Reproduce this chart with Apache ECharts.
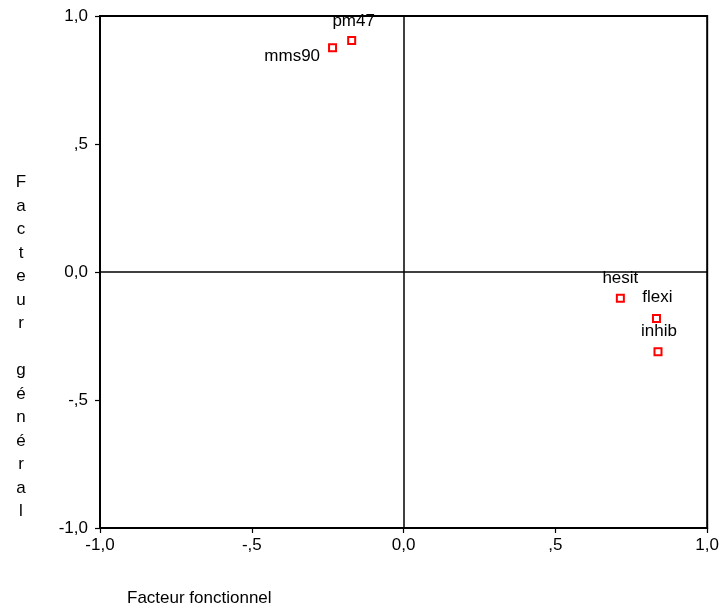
<!DOCTYPE html>
<html><head><meta charset="utf-8">
<script src="https://cdn.jsdelivr.net/npm/echarts@6/dist/echarts.min.js"></script>
<style>html,body{margin:0;padding:0;background:#fff}#c{width:722px;height:614px}</style>
</head><body><div id="c"></div>
<script>
const names = ['pm47', 'mms90', 'hesit', 'flexi', 'inhib'];
const xVals = [-0.171, -0.234, 0.714, 0.833, 0.838];
const yVals = [0.904, 0.876, -0.103, -0.182, -0.312];
const tickValues = [-1, -0.5, 0, 0.5, 1];
const tickLabels = ['-1,0', '-,5', '0,0', ',5', '1,0'];
const xTitle = 'Facteur fonctionnel';
const yTitle = 'Facteur général';

// label placement styles (not data)
const labelPos = {
  pm47: {position: 'top', distance: 5, offset: [2, -1]},
  mms90: {position: 'left', distance: 8, offset: [0, 9]},
  hesit: {position: 'top', distance: 5, offset: [0, -2]},
  flexi: {position: 'top', distance: 5, offset: [1, -3]},
  inhib: {position: 'top', distance: 5, offset: [1, -3]}
};

const FONT = "'Liberation Sans', Arial, sans-serif";
const fmt = v => {
  const i = tickValues.findIndex(t => Math.abs(t - v) < 1e-9);
  return i >= 0 ? tickLabels[i] : '';
};

const points = names.map((n, i) => ({
  name: n,
  value: [xVals[i], yVals[i]],
  label: Object.assign({show: true, formatter: n, color: '#000', fontSize: 17, fontFamily: FONT}, labelPos[n])
}));

const axisCommon = {
  type: 'value', min: -1, max: 1, interval: 0.5,
  axisLine: {show: true, onZero: false, lineStyle: {color: '#000', width: 2}},
  axisTick: {show: true, length: 5, lineStyle: {color: '#000', width: 1.2}},
  splitLine: {show: false},
  axisLabel: {formatter: fmt, color: '#000', fontSize: 17, fontFamily: FONT}
};

const chart = echarts.init(document.getElementById('c'));
chart.setOption({
  animation: false,
  backgroundColor: '#fff',
  grid: {left: 100, right: 14, top: 16, bottom: 86, show: true, borderColor: '#000', borderWidth: 2, backgroundColor: 'transparent'},
  xAxis: Object.assign({}, axisCommon, {axisLabel: Object.assign({}, axisCommon.axisLabel, {margin: 9})}),
  yAxis: Object.assign({}, axisCommon, {axisLabel: Object.assign({}, axisCommon.axisLabel, {margin: 12})}),
  graphic: [
    {type: 'text', left: 127, top: 590, style: {text: xTitle, fill: '#000', font: '17px ' + FONT}},
    {type: 'text', x: 21, y: 347, style: {text: yTitle.split('').join('\n'), fill: '#000', font: '17px ' + FONT, align: 'center', verticalAlign: 'middle', lineHeight: 23.5}}
  ],
  series: [{
    type: 'scatter',
    data: points,
    symbol: 'rect',
    symbolSize: 7,
    itemStyle: {color: '#fff', borderColor: '#ff0000', borderWidth: 2, opacity: 1},
    label: {color: '#000', fontSize: 17, fontFamily: FONT},
    emphasis: {disabled: true},
    markLine: {
      silent: true,
      symbol: 'none',
      label: {show: false},
      lineStyle: {color: '#000', width: 1.5, type: 'solid', opacity: 1},
      data: [{xAxis: 0}, {yAxis: 0}]
    },
    z: 5
  }]
});
</script></body></html>
